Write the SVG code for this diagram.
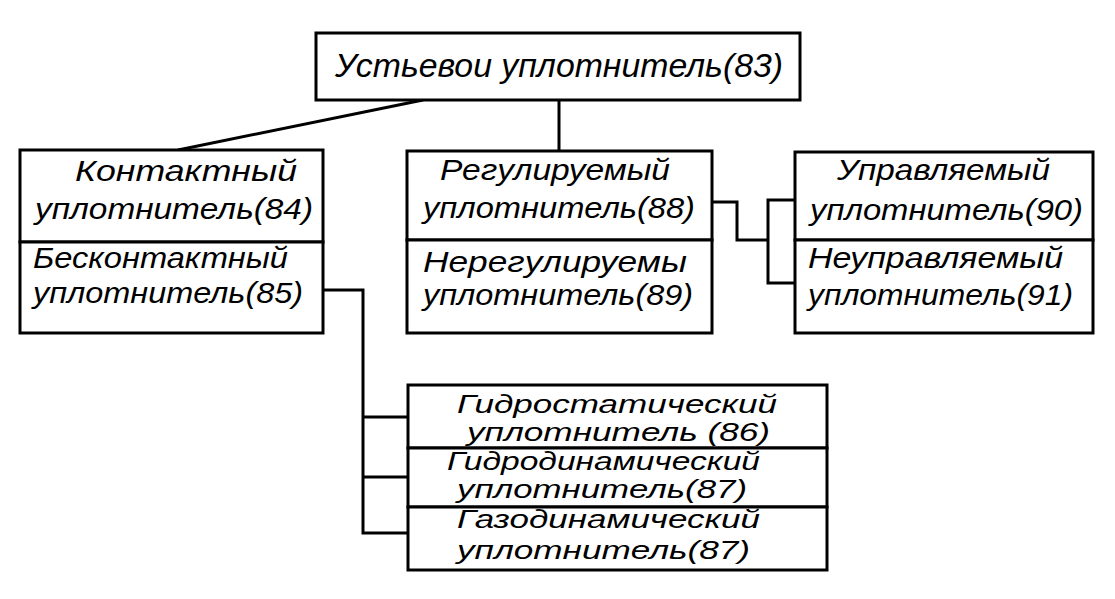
<svg xmlns="http://www.w3.org/2000/svg" width="1115" height="599" viewBox="0 0 1115 599">
<style>
.box{fill:#fff;stroke:#000;stroke-width:3}
.t{font-family:"Liberation Sans","DejaVu Sans",sans-serif;font-style:italic;font-size:30px;fill:#000}
.s{font-size:25px}
.big{font-size:33px}
.c{fill:none;stroke:#000;stroke-width:3}
</style>
<rect width="1115" height="599" fill="#fff"/>
<g id="connectors">
<path class="c" d="M423 100 L178 150"/>
<path class="c" d="M559 100 V151"/>
<path class="c" d="M323 290 H363 V533 H408 M363 417 H408 M363 477 H408"/>
<path class="c" d="M712 202 H737 V240 H768 M795 200 H768 V283 H795"/>
</g>
<g id="n83">
<rect class="box" x="316" y="33" width="484" height="67"/>
<text class="t big" x="335" y="77" textLength="448" lengthAdjust="spacingAndGlyphs">Устьевои уплотнитель(83)</text>
</g>
<g id="n84">
<rect class="box" x="20" y="150" width="303" height="92"/>
<text class="t" x="75" y="181" textLength="222" lengthAdjust="spacingAndGlyphs">Контактный</text>
<text class="t" x="35" y="219" textLength="278" lengthAdjust="spacingAndGlyphs">уплотнитель(84)</text>
</g>
<g id="n85">
<rect class="box" x="20" y="242" width="303" height="91"/>
<text class="t" x="33" y="268" textLength="255" lengthAdjust="spacingAndGlyphs">Бесконтактный</text>
<text class="t" x="33" y="303" textLength="270" lengthAdjust="spacingAndGlyphs">уплотнитель(85)</text>
</g>
<g id="n88">
<rect class="box" x="407" y="151" width="305" height="89"/>
<text class="t" x="440" y="180" textLength="230" lengthAdjust="spacingAndGlyphs">Регулируемый</text>
<text class="t" x="423" y="218" textLength="272" lengthAdjust="spacingAndGlyphs">уплотнитель(88)</text>
</g>
<g id="n89">
<rect class="box" x="407" y="240" width="305" height="93"/>
<text class="t" x="423" y="272" textLength="264" lengthAdjust="spacingAndGlyphs">Нерегулируемы</text>
<text class="t" x="423" y="305" textLength="270" lengthAdjust="spacingAndGlyphs">уплотнитель(89)</text>
</g>
<g id="n90">
<rect class="box" x="795" y="152" width="298" height="88"/>
<text class="t" x="837" y="180" textLength="213" lengthAdjust="spacingAndGlyphs">Управляемый</text>
<text class="t" x="810" y="220" textLength="273" lengthAdjust="spacingAndGlyphs">уплотнитель(90)</text>
</g>
<g id="n91">
<rect class="box" x="795" y="240" width="298" height="93"/>
<text class="t" x="808" y="268" textLength="255" lengthAdjust="spacingAndGlyphs">Неуправляемый</text>
<text class="t" x="808" y="305" textLength="265" lengthAdjust="spacingAndGlyphs">уплотнитель(91)</text>
</g>
<g id="n86">
<rect class="box" x="408" y="385" width="419" height="63"/>
<text class="t s" x="457" y="413" textLength="320" lengthAdjust="spacingAndGlyphs">Гидростатический</text>
<text class="t s" x="467" y="441" textLength="303" lengthAdjust="spacingAndGlyphs">уплотнитель (86)</text>
</g>
<g id="n87a">
<rect class="box" x="408" y="448" width="419" height="59"/>
<text class="t s" x="447" y="470" textLength="313" lengthAdjust="spacingAndGlyphs">Гидродинамический</text>
<text class="t s" x="457" y="498" textLength="290" lengthAdjust="spacingAndGlyphs">уплотнитель(87)</text>
</g>
<g id="n87b">
<rect class="box" x="408" y="507" width="419" height="63"/>
<text class="t s" x="457" y="528" textLength="303" lengthAdjust="spacingAndGlyphs">Газодинамический</text>
<text class="t s" x="457" y="559" textLength="293" lengthAdjust="spacingAndGlyphs">уплотнитель(87)</text>
</g>
</svg>
